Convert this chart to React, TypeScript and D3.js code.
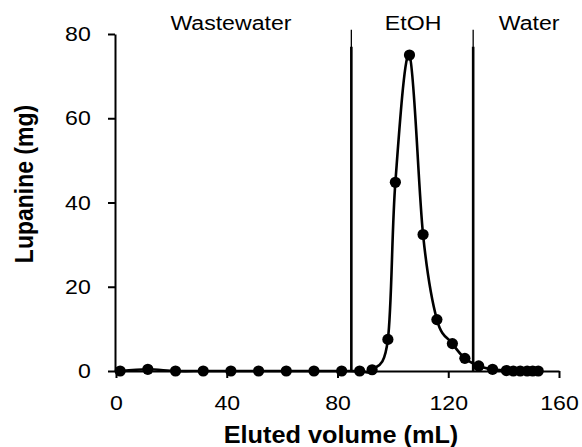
import React, { useEffect, useRef } from 'react';
import * as d3 from 'd3';

// Eluted volume (mL) and lupanine recovered (mg) per fraction
const volume = [1.5, 11.5, 21.5, 31.5, 41.5, 51.5, 61.5, 71.5, 81.5, 88, 92.5, 98.2, 100.9, 106, 110.9, 115.9, 121.5, 126, 131, 136, 141, 143.5, 146, 148.5, 150.5, 152.5];
const lupanine = [0, 0.4, 0, 0, 0, 0, 0, 0, 0, 0, 0.3, 7.5, 44.8, 75, 32.4, 12.2, 6.5, 3, 1.2, 0.4, 0.1, 0, 0, 0, 0, 0];

const xTicks = [0, 40, 80, 120, 160];
const yTicks = [0, 20, 40, 60, 80];

// solvent switch points (mL) and phase labels
const phaseBounds = [85, 129];
const phaseNames = ['Wastewater', 'EtOH', 'Water'];
const phaseCenters = [41.5, 107.3, 149.2];

const W = 582;
const H = 447;
const FONT = '"Liberation Sans", Arial, sans-serif';
const SX = 1.1; // the source picture is stretched a bit horizontally

const App = () => {
  const ref = useRef<SVGSVGElement | null>(null);

  useEffect(() => {
    const svg = d3.select(ref.current);
    svg.selectAll('*').remove();

    const x = d3.scaleLinear().domain([0, 160]).range([116, 559]);
    const y = d3.scaleLinear().domain([0, 80]).range([371, 34]);

    // --- axes ---
    const gx = svg.append('g')
      .attr('transform', `translate(0,${y(0)})`)
      .call(d3.axisBottom(x).tickValues(xTicks).tickSizeInner(7).tickSizeOuter(0).tickPadding(17).tickFormat(d3.format('d')));
    const gy = svg.append('g')
      .attr('transform', `translate(${x(0) - 1},0)`)
      .call(d3.axisLeft(y).tickValues(yTicks).tickSizeInner(7).tickSizeOuter(0).tickPadding(15).tickFormat(d3.format('d')));

    [gx, gy].forEach(g => {
      g.select('.domain').attr('stroke', '#000').attr('stroke-width', 2);
      g.selectAll('.tick line').attr('stroke', '#000').attr('stroke-width', 2);
      g.selectAll('.tick text')
        .attr('fill', '#000')
        .attr('font-family', FONT)
        .attr('font-size', 21)
        .attr('transform', `scale(${SX},1)`);
    });

    // --- phase dividers ---
    phaseBounds.forEach(b => {
      svg.append('line')
        .attr('x1', x(b)).attr('x2', x(b))
        .attr('y1', y(0)).attr('y2', y(81))
        .attr('stroke', '#000').attr('stroke-width', 1.3);
      svg.append('line')
        .attr('x1', x(b)).attr('x2', x(b))
        .attr('y1', y(0)).attr('y2', y(77))
        .attr('stroke', '#000').attr('stroke-width', 2.6);
    });

    phaseNames.forEach((name, i) => {
      svg.append('text')
        .attr('transform', `translate(${x(phaseCenters[i])},30) scale(${SX},1)`)
        .attr('text-anchor', 'middle')
        .attr('font-family', FONT)
        .attr('font-size', 21)
        .attr('fill', '#000')
        .text(name);
    });

    // --- smoothed elution curve (Excel-style smoothing) ---
    const pts = volume.map((v, i) => [v, lupanine[i]] as [number, number]);
    const line = d3.line<[number, number]>()
      .x(d => x(d[0]))
      .y(d => y(d[1]))
      .curve(d3.curveCardinal.tension(0));
    svg.append('path')
      .attr('d', line(pts))
      .attr('fill', 'none')
      .attr('stroke', '#000')
      .attr('stroke-width', 2.6);

    svg.selectAll('.pt')
      .data(pts)
      .enter().append('circle')
      .attr('class', 'pt')
      .attr('cx', d => x(d[0]))
      .attr('cy', d => y(d[1]))
      .attr('r', 5.6)
      .attr('fill', '#000');

    // --- axis titles ---
    svg.append('text')
      .attr('transform', `translate(341,443) scale(${SX},1)`)
      .attr('text-anchor', 'middle')
      .attr('font-family', FONT)
      .attr('font-weight', 'bold')
      .attr('font-size', 23)
      .attr('fill', '#000')
      .text('Eluted volume (mL)');
    svg.append('text')
      .attr('transform', `translate(33,184) scale(${SX},1) rotate(-90)`)
      .attr('text-anchor', 'middle')
      .attr('font-family', FONT)
      .attr('font-weight', 'bold')
      .attr('font-size', 23)
      .attr('fill', '#000')
      .text('Lupanine (mg)');
  }, []);

  return (
    <svg ref={ref} width={W} height={H}
      style={{ position: 'absolute', left: 0, top: 0, background: '#fff' }} />
  );
};

export default App;
